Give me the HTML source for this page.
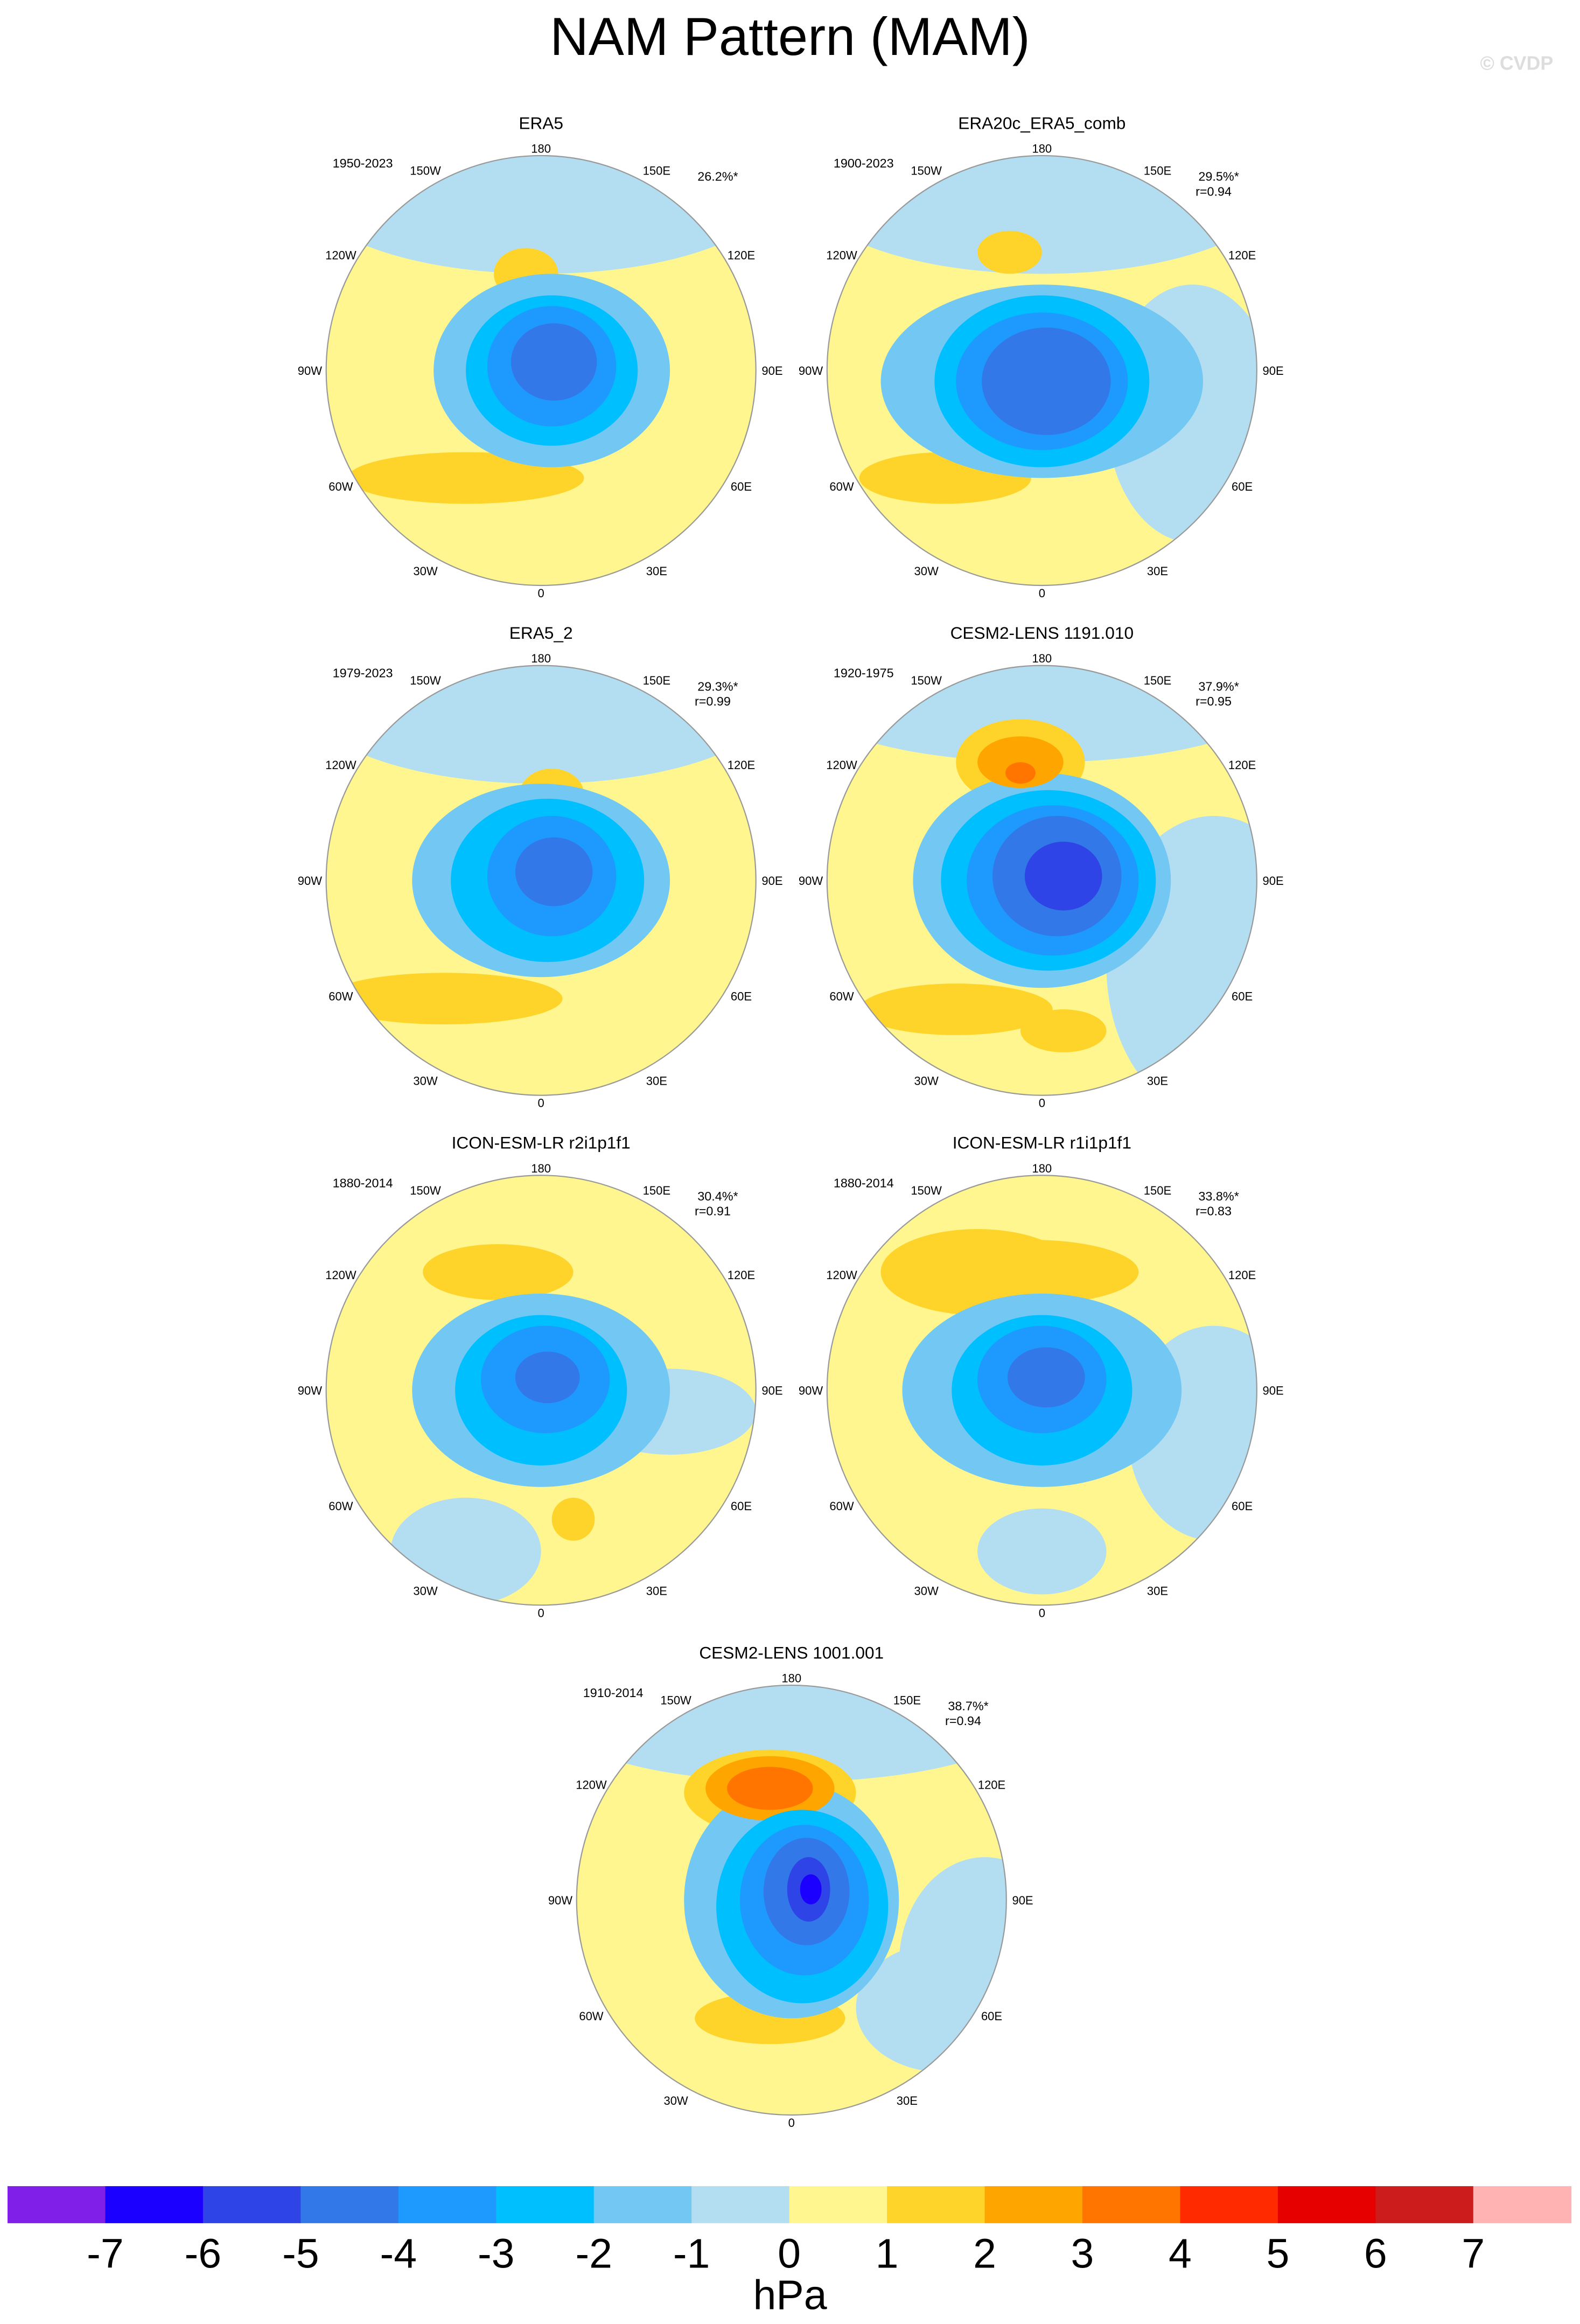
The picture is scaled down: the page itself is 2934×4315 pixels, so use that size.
<!DOCTYPE html>
<html><head><meta charset="utf-8"><style>
html,body{margin:0;padding:0;background:#fff}
svg{display:block}
text{font-family:"Liberation Sans",sans-serif}
</style></head><body>
<svg id="fig" width="2934" height="4315" viewBox="0 0 1066 1568" xmlns="http://www.w3.org/2000/svg">
<text x="533" y="37" font-size="36" text-anchor="middle">NAM Pattern (MAM)</text>
<text x="1048" y="47" font-size="13" fill="#dddddd" text-anchor="end" font-weight="bold">© CVDP</text>
<g id="panels"></g>
<g id="cbar"></g>
</svg>
<script>
const NS="http://www.w3.org/2000/svg";
const levelColors=["#801fe8","#1c00ff","#2e44e6","#3378e8","#1e9aff","#00bfff","#72c8f2","#b3def2","#fff68f","#ffd42a","#ffa500","#ff7500","#ff2a00","#e60000","#cc1c1c","#ffb3b3"];
const tickLabels=["-7","-6","-5","-4","-3","-2","-1","0","1","2","3","4","5","6","7"];
const panelTitles=["ERA5","ERA20c_ERA5_comb","ERA5_2","CESM2-LENS 1191.010","ICON-ESM-LR r2i1p1f1","ICON-ESM-LR r1i1p1f1","CESM2-LENS 1001.001"];
const panelYears=["1950-2023","1900-2023","1979-2023","1920-1975","1880-2014","1880-2014","1910-2014"];
const panelPct=["26.2%*","29.5%*","29.3%*","37.9%*","30.4%*","33.8%*","38.7%*"];
const panelCorr=["","r=0.94","r=0.99","r=0.95","r=0.91","r=0.83","r=0.94"];
const panelCx=[365,703,365,703,365,703,534];
const panelCy=[250,250,594,594,938,938,1282];
// blobs: panel, dx, dy (fraction of radius), rx, ry (fraction), anomaly value (hPa)
const blobPanel=[0,0,0,0,0,0,0,0, 1,1,1,1,1,1,1,1,1, 2,2,2,2,2,2,2,2, 3,3,3,3,3,3,3,3,3,3,3,3, 4,4,4,4,4,4,4,4,4, 5,5,5,5,5,5,5,5,5, 6,6,6,6,6,6,6,6,6,6,6,6,6];
const blobDx=[0,0.05,0.05,0.05,0.06,0.07, -0.35,-0.07,
 0,0.0,0.0,0.0,0.02,0.04, -0.45,-0.15,0.7,
 0,0.0,0.03,0.05,0.06, -0.45,0.05,0,
 0,0.0,0.03,0.05,0.07,0.1, -0.4,0.1,-0.1,-0.1,-0.1,0.8,
 0,0.0,0.0,0.02,0.03, -0.2,0.15,-0.35,0.6,
 0,0.0,0.0,0.0,0.02, -0.05,0.0,0.8,-0.3,
 0,0.0,0.05,0.06,0.07,0.08,0.09, -0.1,-0.1,-0.1,-0.1,0.7,0.9];
const blobDy=[-0.85,0.0,0.0,-0.02,-0.04,-0.05, 0.5,-0.45,
 -0.85,0.05,0.05,0.05,0.05,0.02, 0.5,-0.55,0.2,
 -0.85,0.0,0.0,-0.02,-0.04, 0.55,-0.4,0,
 -0.85,0.0,0.0,0.0,-0.02,-0.02, 0.6,0.7,-0.55,-0.55,-0.5,0.4,
 0.0,0.0,0.0,-0.05,-0.06, -0.55,0.6,0.75,0.1,
 0.0,0.0,0.0,-0.05,-0.06, -0.55,0.75,0.2,-0.55,
 -0.85,0.0,0.03,0.0,-0.04,-0.05,-0.05, -0.5,-0.52,-0.52,0.55,0.5,0.3];
const blobRx=[1.1,0.55,0.4,0.3,0.2,0.1, 0.55,0.15,
 1.1,0.75,0.5,0.4,0.3,0.15, 0.4,0.15,0.4,
 1.1,0.6,0.45,0.3,0.18, 0.55,0.15,0.15,
 1.1,0.6,0.5,0.4,0.3,0.18, 0.45,0.2,0.3,0.2,0.07,0.5,
 2.0,0.6,0.4,0.3,0.15, 0.35,0.1,0.35,0.4,
 2.0,0.65,0.42,0.3,0.18, 0.5,0.3,0.4,0.45,
 1.1,0.5,0.4,0.3,0.2,0.1,0.05, 0.4,0.3,0.2,0.35,0.4,0.4];
const blobRy=[0.4,0.45,0.35,0.28,0.18,0.09, 0.12,0.12,
 0.4,0.45,0.4,0.32,0.25,0.12, 0.12,0.1,0.6,
 0.4,0.45,0.38,0.28,0.16, 0.12,0.12,0.12,
 0.3,0.5,0.42,0.35,0.28,0.16, 0.12,0.1,0.2,0.12,0.05,0.7,
 2.0,0.45,0.35,0.25,0.12, 0.13,0.1,0.25,0.2,
 2.0,0.45,0.35,0.25,0.14, 0.15,0.2,0.5,0.2,
 0.3,0.55,0.45,0.35,0.25,0.15,0.07, 0.2,0.15,0.1,0.12,0.3,0.5];
const blobVal=[-0.5,-1.5,-2.5,-3.5,-4.5,-4.5, 1.5,1.5,
 -0.5,-1.5,-2.5,-3.5,-4.5,-4.5, 1.5,1.5,-0.5,
 -0.5,-1.5,-2.5,-3.5,-4.5, 1.5,1.5,1.5,
 -0.5,-1.5,-2.5,-3.5,-4.5,-5.5, 1.5,1.5,1.5,2.5,3.5,-0.5,
 0.5,-1.5,-2.5,-3.5,-4.5, 1.5,1.5,-0.5,-0.5,
 0.5,-1.5,-2.5,-3.5,-4.5, 1.5,-0.5,-0.5,1.5,
 -0.5,-1.5,-2.5,-3.5,-4.5,-5.5,-6.5, 1.5,2.5,3.5,1.5,-0.5,-0.5];
const R=145;
function colorFor(v){let i=Math.floor(v)+8;i=Math.max(0,Math.min(15,i));return levelColors[i];}
function drawKey(v){return v>0? v-0.01 : -v;}
function el(tag,attrs,parent){const e=document.createElementNS(NS,tag);for(const k in attrs)e.setAttribute(k,attrs[k]);parent.appendChild(e);return e;}
const panelsG=document.getElementById("panels");
const lonLabels=["180","150E","120E","90E","60E","30E","0","30W","60W","90W","120W","150W"];
panelTitles.forEach((t,p)=>{
  const cx=panelCx[p],cy=panelCy[p];
  const g=el("g",{},panelsG);
  
  
  const cp=el("clipPath",{id:"clip"+p},g);
  el("circle",{cx:cx,cy:cy,r:R},cp);
  const m=el("g",{"clip-path":"url(#clip"+p+")"},g);
  const bg=el("circle",{cx:cx,cy:cy,r:R,fill:levelColors[8]},m);
  
  
  const idx=[];
  blobPanel.forEach((bp,i)=>{if(bp===p)idx.push(i);});
  idx.sort((a,b)=>drawKey(blobVal[a])-drawKey(blobVal[b]));
  idx.forEach(i=>{
    const e=el("ellipse",{cx:cx+blobDx[i]*R,cy:cy+blobDy[i]*R,rx:blobRx[i]*R,ry:blobRy[i]*R,fill:colorFor(blobVal[i])},m);
    
    
  });
  const ring=el("circle",{cx:cx,cy:cy,r:R,fill:"none",stroke:"#999",'stroke-width':0.8},g);
  
  
  const tt=el("text",{x:cx,y:cy-163,'font-size':11.5,'text-anchor':'middle'},g);
  tt.textContent=t;
  
  
  const ty=el("text",{x:cx-100,y:cy-137,'font-size':8.5,'text-anchor':'end'},g);
  ty.textContent=panelYears[p];
  
  
  const tp=el("text",{x:cx+133,y:cy-128,'font-size':8.5,'text-anchor':'end'},g);
  tp.textContent=panelPct[p];
  
  
  if(panelCorr[p]){
    const tr=el("text",{x:cx+128,y:cy-118,'font-size':8.5,'text-anchor':'end'},g);
    tr.textContent=panelCorr[p];
    
    
  }
  lonLabels.forEach((l,k)=>{
    const a=k*30*Math.PI/180, rr=(k===0||k===6)?150:156;
    const lx=cx+rr*Math.sin(a), ly=cy-rr*Math.cos(a)+3;
    const tl=el("text",{x:lx,y:ly,'font-size':8,'text-anchor':'middle'},g);
    tl.textContent=l;
    
    
  });
});
// colorbar
const cb=document.getElementById("cbar");
const x0=5,x1=1060,y0=1475,h=25,w=(x1-x0)/levelColors.length;
levelColors.forEach((c,i)=>{
  const r=el("rect",{x:x0+i*w,y:y0,width:w+0.3,height:h,fill:c},cb);
  
  
});
tickLabels.forEach((t,i)=>{
  const tx=el("text",{x:x0+(i+1)*w,y:1530,'font-size':28,'text-anchor':'middle'},cb);
  tx.textContent=t;
  
  
});
const u=el("text",{x:533,y:1558,'font-size':28,'text-anchor':'middle'},cb);
u.textContent="hPa";


</script>
</body></html>
